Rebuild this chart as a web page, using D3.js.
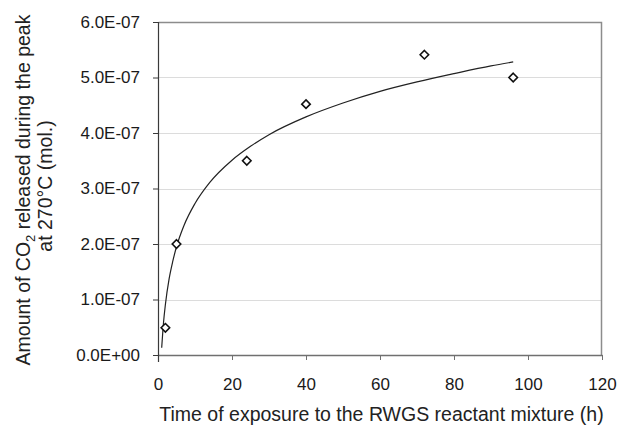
<!DOCTYPE html>
<html>
<head>
<meta charset="utf-8">
<script src="https://cdn.jsdelivr.net/npm/d3@7"></script>
<style>
  body { margin: 0; background: #fff; }
  text { font-family: "Liberation Sans", Arial, sans-serif; }
</style>
</head>
<body>
<div id="chart"></div>
<script>
// measured points (h, mol)
var hours = [2, 5, 24, 40, 72, 96];
var co2 = [0.49e-7, 2.0e-7, 3.5e-7, 4.52e-7, 5.41e-7, 5.0e-7];

// logarithmic trendline
var trendHours = [1, 1.5, 2, 3, 4, 5, 7, 10, 14, 20, 25, 30, 40, 50, 60, 70, 80, 90, 96];
var trendCo2 = [0.13e-7, 0.59e-7, 0.91e-7, 1.37e-7, 1.69e-7, 1.95e-7, 2.33e-7, 2.73e-7,
                3.11e-7, 3.51e-7, 3.76e-7, 3.97e-7, 4.29e-7, 4.54e-7, 4.75e-7, 4.92e-7,
                5.07e-7, 5.21e-7, 5.28e-7];

var xTicks = [0, 20, 40, 60, 80, 100, 120];
var yTicks = [0, 1e-7, 2e-7, 3e-7, 4e-7, 5e-7, 6e-7];
var yTickLabels = ["0.0E+00", "1.0E-07", "2.0E-07", "3.0E-07", "4.0E-07", "5.0E-07", "6.0E-07"];

// set the dimensions and margins of the graph
var margin = { top: 22, right: 17, bottom: 70, left: 158 },
    width = 619 - margin.left - margin.right,
    height = 425 - margin.top - margin.bottom;

var svg = d3.select("#chart")
    .append("svg")
    .attr("width", 619)
    .attr("height", 425)
    .append("g")
    .attr("transform", "translate(" + margin.left + "," + margin.top + ")");

var x = d3.scaleLinear().domain([0, 120]).range([0, width]);
var y = d3.scaleLinear().domain([0, 6e-7]).range([height, 0]);

// horizontal gridlines
svg.selectAll("line.grid")
    .data(yTicks.slice(1))
    .enter()
    .append("line")
    .attr("class", "grid")
    .attr("x1", 0)
    .attr("x2", width)
    .attr("y1", function (d) { return Math.round(y(d)) + 0.5; })
    .attr("y2", function (d) { return Math.round(y(d)) + 0.5; })
    .attr("stroke", "#dcdcdc")
    .attr("stroke-width", 1);

// plot border top / right
svg.append("path")
    .attr("d", "M0.5,0.5H" + (width - 0.5) + "V" + height)
    .attr("fill", "none")
    .attr("stroke", "#8c8c8c")
    .attr("stroke-width", 1.5);

// x axis
var xAxis = svg.append("g")
    .attr("transform", "translate(0," + height + ")")
    .call(d3.axisBottom(x).tickValues(xTicks).tickSize(5).tickSizeOuter(0).tickPadding(18));
xAxis.select(".domain").attr("stroke", "#707070").attr("stroke-width", 1.5);
xAxis.selectAll(".tick line").attr("stroke", "#707070");
xAxis.selectAll("text")
    .style("font-size", "17px")
    .attr("fill", "#1a1a1a");

// y axis
var yAxis = svg.append("g")
    .call(d3.axisLeft(y).tickValues(yTicks).tickSize(5).tickSizeOuter(0).tickPadding(13)
        .tickFormat(function (d, i) { return yTickLabels[i]; }));
yAxis.select(".domain").attr("stroke", "#3a3a3a").attr("stroke-width", 1.2)
    .attr("d", "M0.5,0V" + (height + 7));
yAxis.selectAll(".tick line").attr("stroke", "#3a3a3a");
yAxis.selectAll("text")
    .style("font-size", "17px")
    .attr("fill", "#1a1a1a");

// trendline
var line = d3.line()
    .x(function (d, i) { return x(trendHours[i]); })
    .y(function (d) { return y(d); })
    .curve(d3.curveMonotoneX);
svg.append("path")
    .datum(trendCo2)
    .attr("d", line)
    .attr("fill", "none")
    .attr("stroke", "#222")
    .attr("stroke-width", 1.2);

// diamond markers
svg.selectAll("path.pt")
    .data(co2)
    .enter()
    .append("path")
    .attr("class", "pt")
    .attr("d", d3.symbol().type(d3.symbolDiamond2).size(46))
    .attr("transform", function (d, i) { return "translate(" + x(hours[i]) + "," + y(d) + ")"; })
    .attr("fill", "#fff")
    .attr("stroke", "#111")
    .attr("stroke-width", 1.6);

// x axis title
svg.append("text")
    .attr("x", 381.5 - margin.left)
    .attr("y", 421 - margin.top)
    .style("text-anchor", "middle")
    .style("font-size", "19.5px")
    .attr("fill", "#222")
    .text("Time of exposure to the RWGS reactant mixture (h)");

// y axis title (two lines)
var yTitle = svg.append("text")
    .attr("transform", "rotate(-90)")
    .attr("x", -(190 - margin.top))
    .attr("y", 30 - margin.left)
    .style("text-anchor", "middle")
    .style("font-size", "19.5px")
    .attr("fill", "#222");
yTitle.append("tspan").text("Amount of CO");
yTitle.append("tspan").attr("dy", 5).style("font-size", "13px").text("2");
yTitle.append("tspan").attr("dy", -5).text(" released during the peak");

svg.append("text")
    .attr("transform", "rotate(-90)")
    .attr("x", -(186 - margin.top))
    .attr("y", 52 - margin.left)
    .style("text-anchor", "middle")
    .style("font-size", "19.5px")
    .attr("fill", "#222")
    .text("at 270°C (mol.)");
</script>
</body>
</html>
